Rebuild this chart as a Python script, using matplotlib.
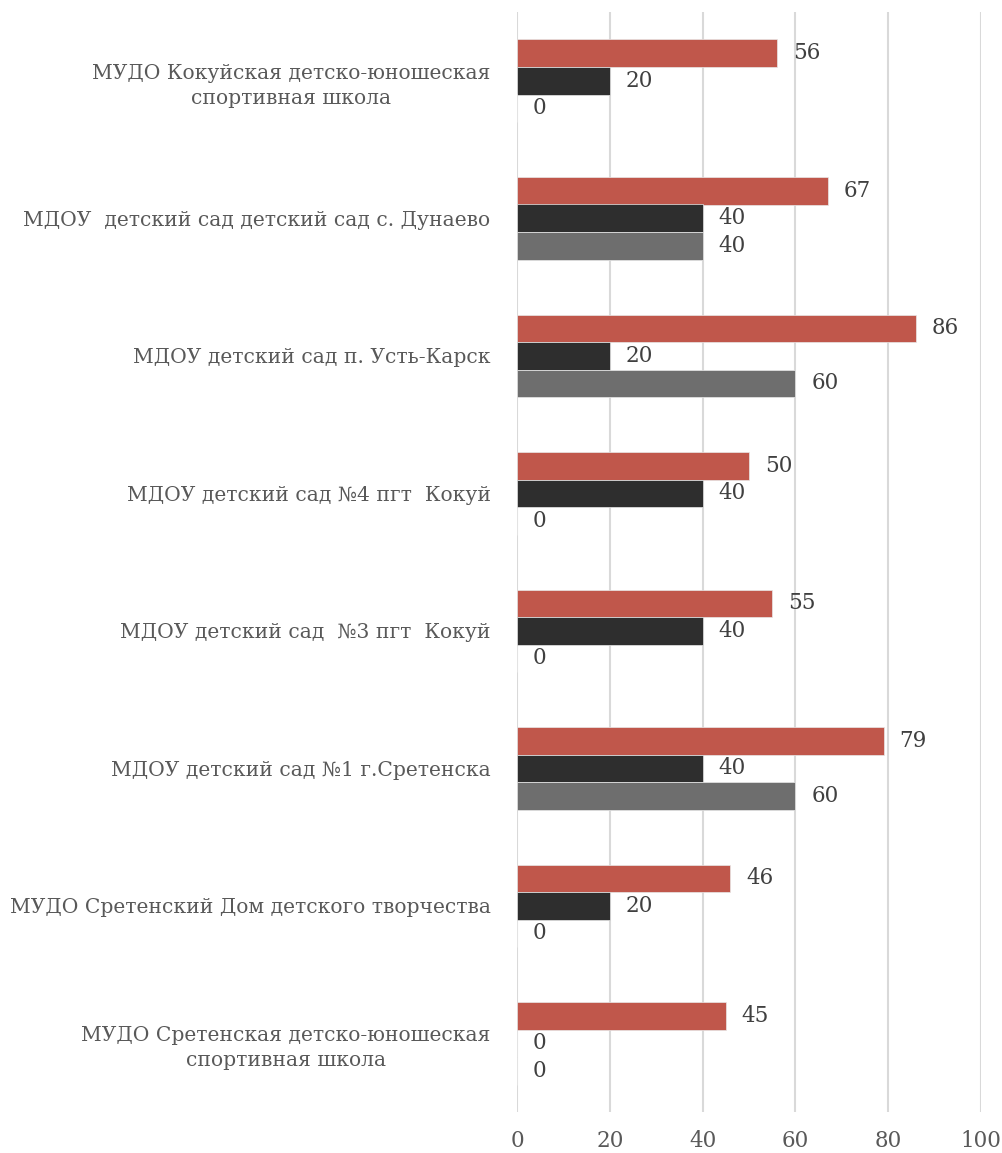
import matplotlib
matplotlib.use('Agg')
import matplotlib.pyplot as plt
import numpy as np

# data (top to bottom as in the picture)
categories = [
    "МУДО Кокуйская детско-юношеская\nспортивная школа",
    "МДОУ  детский сад детский сад с. Дунаево",
    "МДОУ детский сад п. Усть-Карск",
    "МДОУ детский сад №4 пгт  Кокуй",
    "МДОУ детский сад  №3 пгт  Кокуй",
    "МДОУ детский сад №1 г.Сретенска",
    "МУДО Сретенский Дом детского творчества",
    "МУДО Сретенская детско-юношеская\nспортивная школа",
]
series_red = [56, 67, 86, 50, 55, 79, 46, 45]
series_dark = [20, 40, 20, 40, 40, 40, 20, 0]
series_gray = [0, 40, 60, 0, 0, 60, 0, 0]

colors = ['#C0574B', '#2E2E2E', '#6E6E6E']
text_color = '#595959'
plt.rcParams['font.family'] = ['DejaVu Serif']

fig = plt.figure(figsize=(10.03, 11.53), dpi=100)
ax = fig.add_axes([517 / 1003, 1 - 1112 / 1153, 464 / 1003, 1100 / 1153])

n = len(categories)
y = np.arange(n)[::-1]  # first category on top
h = 0.2

for vals, off, col in zip([series_red, series_dark, series_gray], [-h, 0, h], colors):
    bars = ax.barh(y - off, vals, height=h, color=col, edgecolor='#e8e8e8', linewidth=0.5, zorder=3)
    for b, v in zip(bars, vals):
        ax.annotate(str(v), (v, b.get_y() + b.get_height() / 2), xytext=(16, 0),
                    textcoords='offset pixels',
                    va='center', ha='left', fontsize=15.5, color='#404040')

ax.set_xlim(0, 100)
ax.set_ylim(-0.5, n - 0.5)
ax.set_xticks(np.arange(0, 101, 20))
ax.set_yticks(y)
ax.set_yticklabels(categories, fontsize=14.6, color=text_color, ha='right',
                   multialignment='center', linespacing=1.4)
ax.tick_params(axis='y', length=0, pad=19)
ax.tick_params(axis='x', length=0, pad=13, labelsize=15.5, labelcolor=text_color)
ax.grid(axis='x', color='#d9d9d9', linewidth=1.5, zorder=0)
for s in ax.spines.values():
    s.set_visible(False)

fig.savefig('out.png', dpi=100)
